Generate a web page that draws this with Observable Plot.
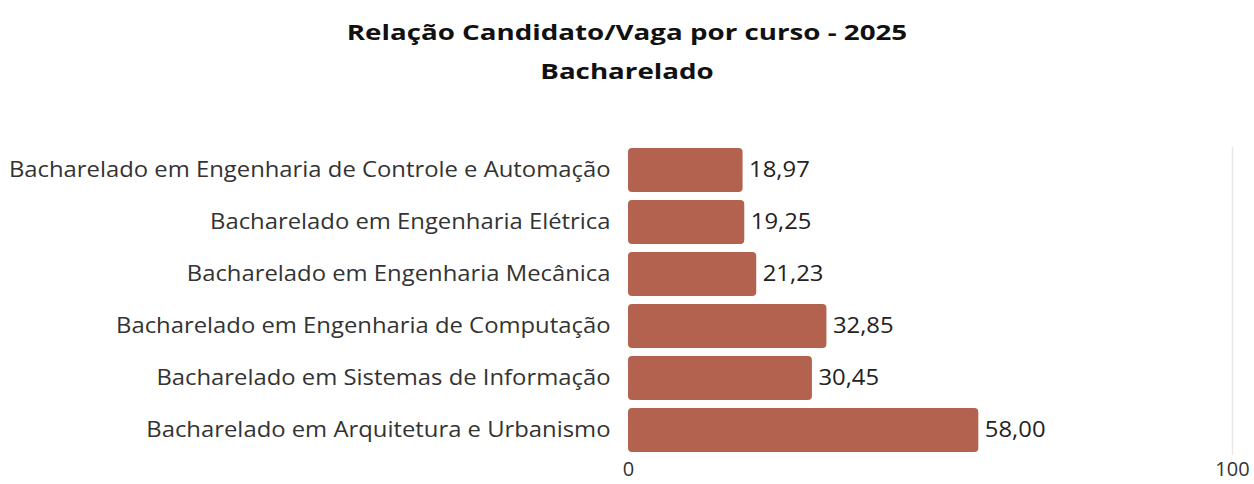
<!DOCTYPE html>
<html>
<head>
<meta charset="utf-8">
<script src="https://cdn.jsdelivr.net/npm/d3@7"></script>
<script src="https://cdn.jsdelivr.net/npm/@observablehq/plot@0.6"></script>
<style>
  html, body { margin: 0; padding: 0; background: #fff; }
  body { width: 1254px; height: 484px; overflow: hidden; font-family: "Open Sans", sans-serif; }
  #head { position: relative; height: 100px; width: 1254px; }
  .t { position: absolute; left: 0; width: 1254px; text-align: center; font-weight: 700; font-size: 22px; color: #111; line-height: 1; transform: scaleX(1.26); transform-origin: 627px 0; }
  #title { top: 20px; }
  #subtitle { top: 59px; }
</style>
</head>
<body>
<div id="head">
  <div class="t" id="title">Relação Candidato/Vaga por curso - 2025</div>
  <div class="t" id="subtitle">Bacharelado</div>
</div>
<div id="chart"></div>
<script>
const courses = [
  "Bacharelado em Engenharia de Controle e Automação",
  "Bacharelado em Engenharia Elétrica",
  "Bacharelado em Engenharia Mecânica",
  "Bacharelado em Engenharia de Computação",
  "Bacharelado em Sistemas de Informação",
  "Bacharelado em Arquitetura e Urbanismo"
];
const ratios = [18.97, 19.25, 21.23, 32.85, 30.45, 58.00];
const xTicks = [0, 100];

const data = courses.map((c, i) => ({course: c, ratio: ratios[i]}));
const fmt = v => v.toFixed(2).replace(".", ",");

const chart = Plot.plot({
  width: 1254,
  height: 384,
  marginLeft: 628,
  marginRight: 22,
  marginTop: 43,
  marginBottom: 27,
  style: {fontFamily: "Open Sans, sans-serif", fontSize: "21px", color: "#333", background: "#fff"},
  x: {domain: [0, 100], label: null},
  y: {domain: courses, paddingInner: 0.15, paddingOuter: 0.075, label: null},
  marks: [
    Plot.ruleX([100], {stroke: "#e6e6e6", strokeWidth: 1.5, insetTop: 4, insetBottom: 2}),
    Plot.barX(data, {x: "ratio", y: "course", fill: "#b3624f", rx: 4}),
    Plot.text(data, {x: "ratio", y: "course", text: d => fmt(d.ratio), textAnchor: "start", dx: 6, fill: "#222", fontSize: 21}),
    Plot.axisY({tickSize: 0, tickPadding: 18, fontSize: 21, label: null}),
    Plot.axisX(xTicks, {tickSize: 0, tickPadding: 4, fontSize: 20, label: null})
  ]
});
document.getElementById("chart").appendChild(chart);
// the reference's lettering is slightly wider than Open Sans: stretch the longer labels horizontally
chart.querySelectorAll("text").forEach(t => {
  const w = t.getComputedTextLength();
  if (w > 0 && t.textContent.length > 3) {
    t.setAttribute("textLength", (w * 1.135).toFixed(1));
    t.setAttribute("lengthAdjust", "spacingAndGlyphs");
  }
});
</script>
</body>
</html>
